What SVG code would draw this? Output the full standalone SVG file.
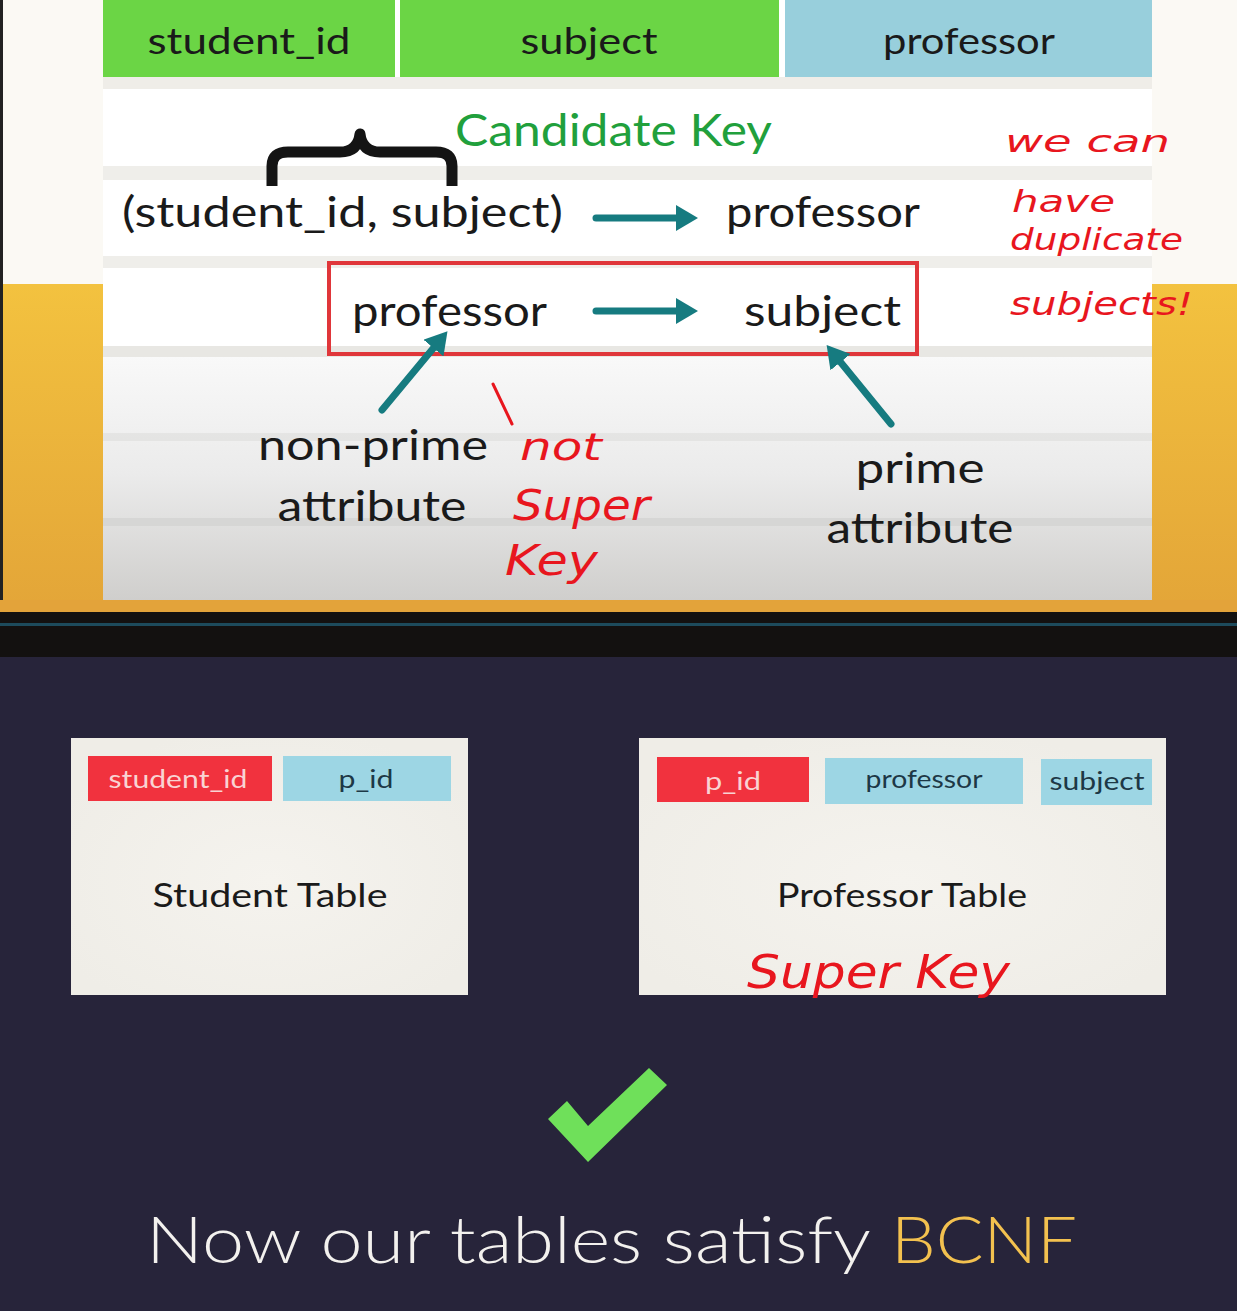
<svg xmlns="http://www.w3.org/2000/svg" width="1237" height="1311" viewBox="0 0 1237 1311">
<defs>
<style>
.t{font-family:Lato,"Open Sans","DejaVu Sans",sans-serif;fill:#1a1a1a;font-weight:400}
.s{font-family:Lato,"Open Sans",sans-serif;font-weight:400}
.l{font-family:Lato,"Open Sans",sans-serif;font-weight:300}
.hw{font-family:"DejaVu Sans",sans-serif;fill:#e8161e;font-style:italic}
.teal{stroke:#167b80;stroke-width:7;fill:none;stroke-linecap:round}
</style>
<linearGradient id="yel" x1="0" y1="0" x2="0" y2="1">
<stop offset="0" stop-color="#f3c23f"/><stop offset="1" stop-color="#e3a538"/>
</linearGradient>
<linearGradient id="fade" x1="0" y1="0" x2="0" y2="1">
<stop offset="0" stop-color="#fafafa"/><stop offset="0.5" stop-color="#ebebeb"/><stop offset="1" stop-color="#cfcecc"/>
</linearGradient>
<radialGradient id="card" cx="0.5" cy="0.55" r="0.6">
<stop offset="0" stop-color="#f5f3ee"/><stop offset="1" stop-color="#efede7"/>
</radialGradient>
<marker id="ah" markerUnits="userSpaceOnUse" markerWidth="24" markerHeight="26" refX="4" refY="13" orient="auto">
<path d="M0,0 L22,13 L0,26 Z" fill="#167b80"/>
</marker>
</defs>

<!-- backgrounds -->
<g id="background">
<rect x="0" y="0" width="1237" height="612" fill="#fbf9f4"/>
<rect x="0" y="284" width="104" height="328" fill="url(#yel)"/>
<rect x="1152" y="284" width="85" height="328" fill="url(#yel)"/>
<rect x="0" y="0" width="3" height="612" fill="#222"/>
<rect x="103" y="0" width="1049" height="602" fill="#ffffff"/>
<rect x="103" y="77" width="1049" height="12" fill="#efede8"/>
<rect x="103" y="166" width="1049" height="14" fill="#efeeea"/>
<rect x="103" y="256" width="1049" height="12" fill="#efeeea"/>
<rect x="103" y="346" width="1049" height="256" fill="url(#fade)"/>
<rect x="103" y="346" width="1049" height="11" fill="#e8e7e3"/>
<rect x="103" y="433" width="1049" height="8" fill="#e0e0de" opacity="0.7"/>
<rect x="103" y="518" width="1049" height="8" fill="#d2d2d0" opacity="0.7"/>
<rect x="0" y="600" width="1237" height="12" fill="#e3a33a"/>
<rect x="0" y="612" width="1237" height="46" fill="#131110"/>
<rect x="0" y="623" width="1237" height="3" fill="#1d4b5c"/>
<rect x="0" y="657" width="1237" height="654" fill="#27243a"/>
</g>

<!-- header row -->
<g id="header">
<rect x="103" y="0" width="292" height="77" fill="#6bd545"/>
<rect x="400" y="0" width="379" height="77" fill="#6bd545"/>
<rect x="785" y="0" width="367" height="77" fill="#98cfdc"/>
<text class="t" x="249" y="54" font-size="36" text-anchor="middle" textLength="203" lengthAdjust="spacingAndGlyphs">student_id</text>
<text class="t" x="589" y="54" font-size="36" text-anchor="middle" textLength="137" lengthAdjust="spacingAndGlyphs">subject</text>
<text class="t" x="969" y="54" font-size="36" text-anchor="middle" textLength="172" lengthAdjust="spacingAndGlyphs">professor</text>
</g>

<g id="candidate-key">
<text class="s" x="455" y="146" font-size="44" fill="#21a03c" textLength="317" lengthAdjust="spacingAndGlyphs">Candidate Key</text>
<path d="M272,186 L272,166 Q272,152 288,152 L340,152 Q358,152 360,134 Q362,152 380,152 L436,152 Q452,152 452,166 L452,186" fill="none" stroke="#141414" stroke-width="11" stroke-linejoin="round"/>
</g>

<g id="fd1">
<text class="t" x="122" y="227" font-size="42" textLength="441" lengthAdjust="spacingAndGlyphs">(student_id, subject)</text>
<text class="t" x="726" y="227" font-size="42" textLength="194" lengthAdjust="spacingAndGlyphs">professor</text>
</g>

<g id="fd2">
<rect x="329" y="263" width="588" height="91" fill="none" stroke="#e0363a" stroke-width="4"/>
<text class="t" x="352" y="326" font-size="42" textLength="195" lengthAdjust="spacingAndGlyphs">professor</text>
<text class="t" x="744" y="326" font-size="42" textLength="157" lengthAdjust="spacingAndGlyphs">subject</text>
</g>

<g id="non-prime">
<text class="t" x="373" y="460" font-size="42" text-anchor="middle" textLength="230" lengthAdjust="spacingAndGlyphs">non-prime</text>
<text class="t" x="372" y="521" font-size="42" text-anchor="middle" textLength="189" lengthAdjust="spacingAndGlyphs">attribute</text>
</g>

<g id="prime">
<text class="t" x="920" y="483" font-size="42" text-anchor="middle" textLength="129" lengthAdjust="spacingAndGlyphs">prime</text>
<text class="t" x="920" y="543" font-size="42" text-anchor="middle" textLength="187" lengthAdjust="spacingAndGlyphs">attribute</text>
</g>

<!-- connectors -->
<g id="connectors">
<line class="teal" x1="596" y1="218" x2="680" y2="218" marker-end="url(#ah)"/>
<line class="teal" x1="596" y1="311" x2="680" y2="311" marker-end="url(#ah)"/>
<line class="teal" x1="382" y1="410" x2="436" y2="345" marker-end="url(#ah)"/>
<line class="teal" x1="891" y1="424" x2="838" y2="359" marker-end="url(#ah)"/>
</g>

<!-- handwritten notes -->
<g id="notes-top">
<text class="hw" x="1005" y="152" font-size="30" textLength="165" lengthAdjust="spacingAndGlyphs">we can</text>
<text class="hw" x="1012" y="212" font-size="30" textLength="103" lengthAdjust="spacingAndGlyphs">have</text>
<text class="hw" x="1010" y="250" font-size="30" textLength="173" lengthAdjust="spacingAndGlyphs">duplicate</text>
<text class="hw" x="1010" y="315" font-size="32" textLength="183" lengthAdjust="spacingAndGlyphs">subjects!</text>
</g>
<g id="notes-left">
<line x1="493" y1="384" x2="512" y2="424" stroke="#e8161e" stroke-width="3" stroke-linecap="round"/>
<text class="hw" x="520" y="460" font-size="38" textLength="82" lengthAdjust="spacingAndGlyphs">not</text>
<text class="hw" x="513" y="520" font-size="42" textLength="137" lengthAdjust="spacingAndGlyphs">Super</text>
<text class="hw" x="505" y="575" font-size="42" textLength="93" lengthAdjust="spacingAndGlyphs">Key</text>
</g>

<!-- bottom tables -->
<g id="student-table">
<rect x="71" y="738" width="397" height="257" fill="url(#card)"/>
<rect x="88" y="756" width="184" height="45" fill="#f1323e"/>
<rect x="283" y="756" width="168" height="45" fill="#9dd6e4"/>
<text class="s" x="178" y="788" font-size="25" text-anchor="middle" fill="#f9d3d3" textLength="139" lengthAdjust="spacingAndGlyphs">student_id</text>
<text class="s" x="366" y="788" font-size="25" text-anchor="middle" fill="#1d3846" textLength="55" lengthAdjust="spacingAndGlyphs">p_id</text>
<text class="t" x="270" y="907" font-size="33" text-anchor="middle" textLength="235" lengthAdjust="spacingAndGlyphs">Student Table</text>
</g>

<g id="professor-table">
<rect x="639" y="738" width="527" height="257" fill="url(#card)"/>
<rect x="657" y="757" width="152" height="45" fill="#f1323e"/>
<rect x="825" y="758" width="198" height="46" fill="#9dd6e4"/>
<rect x="1041" y="759" width="111" height="46" fill="#9dd6e4"/>
<text class="s" x="733" y="790" font-size="25" text-anchor="middle" fill="#f9d3d3" textLength="56" lengthAdjust="spacingAndGlyphs">p_id</text>
<text class="s" x="924" y="788" font-size="25" text-anchor="middle" fill="#1d3846" textLength="117" lengthAdjust="spacingAndGlyphs">professor</text>
<text class="s" x="1097" y="790" font-size="25" text-anchor="middle" fill="#1d3846" textLength="95" lengthAdjust="spacingAndGlyphs">subject</text>
<text class="t" x="902" y="907" font-size="33" text-anchor="middle" textLength="250" lengthAdjust="spacingAndGlyphs">Professor Table</text>
<text class="hw" x="747" y="988" font-size="46" textLength="263" lengthAdjust="spacingAndGlyphs">Super Key</text>
</g>

<g id="check">
<polygon points="548,1119 567,1101 588,1126 649,1068 667,1085 588,1162" fill="#6fe05a"/>
</g>

<g id="conclusion">
<text class="l" x="146" y="1263" font-size="66" fill="#f3f1ee" textLength="725" lengthAdjust="spacingAndGlyphs">Now our tables satisfy</text>
<text class="l" x="891" y="1263" font-size="66" fill="#f3c14f" textLength="186" lengthAdjust="spacingAndGlyphs">BCNF</text>
</g>
</svg>
